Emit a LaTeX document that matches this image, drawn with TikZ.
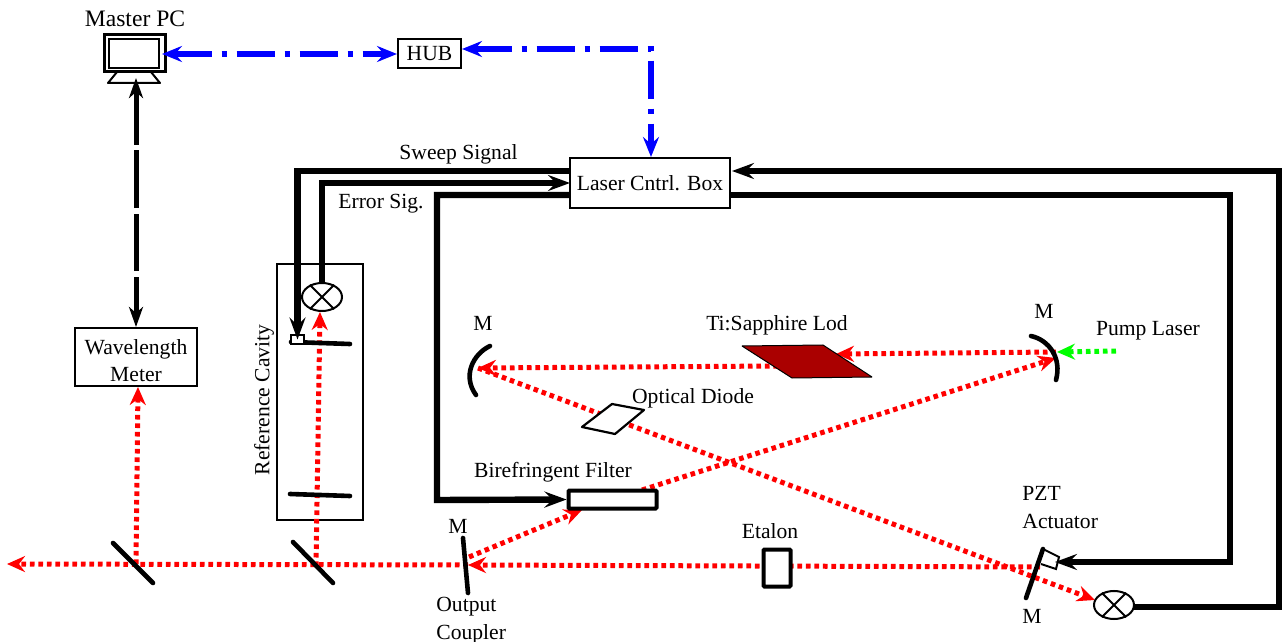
\documentclass[tikz,border=0pt]{standalone}
\usepackage{fontspec}
\setmainfont{Liberation Serif}
\usetikzlibrary{arrows.meta,shapes.geometric}
\definecolor{lodred}{RGB}{170,0,0}
\tikzset{
  lbl/.style={font=\fontsize{10.8}{13}\selectfont, inner sep=0pt, align=center},
  bx/.style={draw, line width=1pt, fill=white, inner sep=0pt, align=center, font=\fontsize{10.8}{13.5}\selectfont},
  optic/.style={line width=2.3pt, line cap=round},
  det/.style={draw, ellipse, line width=1pt, minimum width=20pt, minimum height=14pt, inner sep=0pt},
  beam/.style={red, line width=2.5pt, dash pattern=on 2.3pt off 1.95pt, -{Stealth[length=9pt,width=8pt,inset=3pt]}},
  sig/.style={line width=3.2pt, line join=miter},
  sigtip/.style={-{Stealth[length=11pt,width=8pt,inset=4pt]}},
  net/.style={blue, line width=2.7pt, dash pattern=on 19pt off 5pt on 2.5pt off 5pt, {Stealth[length=10pt,width=8pt,inset=3.5pt]}-{Stealth[length=10pt,width=8pt,inset=3.5pt]}},
  link/.style={line width=2.5pt, dash pattern=on 28.8pt off 2.8pt, dash phase=10pt, {Stealth[length=10pt,width=7pt,inset=3pt]}-{Stealth[length=10pt,width=7pt,inset=3pt]}}
}
\begin{document}
\begin{tikzpicture}[x=0.5pt,y=-0.5pt]
  \useasboundingbox (0,0) rectangle (1282,642);
  % boxes
  \node[bx, line width=1.5pt, minimum width=30.5pt, minimum height=18.5pt] (screen) at (134.5,53) {};
  \node[draw, line width=0.6pt, minimum width=25pt, minimum height=14.5pt, inner sep=0pt] (inner) at (134,53.5) {};
  \draw[line width=1pt, line join=round] (117,72) -- (108,83) -- (160,83) -- (151,72);
  \coordinate (pcbase) at (136,78);
  \node[bx, minimum width=31.5pt, minimum height=14.5pt] (hub) at (429.5,54) {HUB};
  \node[bx, minimum width=80pt, minimum height=25pt] (ctrl) at (650,183) {Laser Cntrl. Box};
  \node[bx, minimum width=61pt, minimum height=29pt] (meter) at (136,357) {\rule{0pt}{11pt}Wavelength\\Meter};
  \draw[line width=1pt] (277,264) rectangle (363,520);
  % network and pc
  \coordinate (pcright) at (162,54);
  \coordinate (hubright) at (462,49);
  \coordinate (ctrltop) at (651,157);
  \draw[net] (pcright) -- (hub.west);
  \draw[net] (hubright) -| (ctrltop);
  \draw[link] (meter.north) -- (pcbase);
  % beams
  \coordinate (omleft) at (478,368);
  \coordinate (omright) at (1056,352);
  \coordinate (pumpstart) at (1116,351);
  \coordinate (omrefl) at (1056,358);
  \coordinate (tiright) at (836,354);
  \coordinate (tileft) at (778,366);
  \coordinate (filtertop) at (642,490);
  \coordinate (filterbot) at (582,510);
  \coordinate (ocfront) at (469,557);
  \coordinate (ocin) at (468,565);
  \coordinate (pztspot) at (1040,567);
  \coordinate (split1) at (136,564);
  \coordinate (split2) at (316,566);
  \coordinate (farleft) at (7,564);
  \coordinate (cavdet) at (320,312);
  \coordinate (meterbot) at (138,387);
  \draw[beam] (pztspot) -- (ocin);
  \draw[beam] (ocin) -- (farleft);
  \draw[beam] (split2) -- (cavdet);
  \draw[beam] (split1) -- (meterbot);
  \draw[beam] (ocfront) -- (filterbot);
  \draw[beam] (filtertop) -- (omrefl);
  \draw[beam] (omright) -- (tiright);
  \draw[beam] (tileft) -- (omleft);
  \draw[beam] (omleft) -- (1095,600);
  \draw[beam, green] (pumpstart) -- (1057,352);
  % optics
  \draw[line width=0.5pt, line join=bevel, fill=lodred] (742,346) -- (823,345) -- (872,377) -- (792,378) -- cycle;
  \draw[line width=1.1pt, line join=round, fill=white] (582,427) -- (612,404) -- (644,410) -- (615,434) -- cycle;
  \draw[optic] (490,346) .. controls (473,354) and (462,376) .. (476,395);
  \draw[optic] (1031,336) .. controls (1049,340) and (1062,358) .. (1056,380);
  \draw[optic] (463,538) -- (468,593);
  \draw[optic] (113,543) -- (153,583);
  \draw[optic] (293,542) -- (333,583);
  \draw[optic] (291,342) -- (350,344);
  \draw[optic] (290,494) -- (350,496);
  \draw[optic] (1043,549) -- (1026,598);
  \draw[line width=1pt] (1043,549) -- (1059,557) -- (1056,569) -- (1041,564);
  \node[bx, line width=2pt, rounded corners=0.5pt, minimum width=44pt, minimum height=9pt] (filter) at (612.5,499.5) {};
  \node[bx, line width=2pt, rounded corners=0.5pt, minimum width=13.5pt, minimum height=18.5pt] (etalon) at (777,568) {};
  \node[draw, fill=white, line width=0.7pt, minimum width=6.5pt, minimum height=4.5pt, inner sep=0pt] (piezo) at (297.5,339.5) {};
  % detectors
  \node[det] (cavity) at (322,297) {};
  \draw[line width=1pt] (cavity.45) -- (cavity.225) (cavity.135) -- (cavity.315);
  \node[det] (output) at (1114,605) {};
  \draw[line width=1pt] (output.45) -- (output.225) (output.135) -- (output.315);
  % signal lines
  \coordinate (sweepout) at (570,171);
  \coordinate (errin) at (570,183);
  \coordinate (filtout) at (570,195);
  \coordinate (filtcorner) at (437,500);
  \coordinate (pztout) at (730,195);
  \coordinate (pztcorner) at (1230,562);
  \coordinate (pztend) at (1055,562);
  \coordinate (outtap) at (1133,607);
  \coordinate (retcorner) at (1279,607);
  \coordinate (retin) at (732,171);
  \draw[sig, sigtip] (sweepout) -| (piezo.center);
  \draw[sig, sigtip] (cavity.north) |- (errin);
  \draw[sig, sigtip] (filtout) -| (filtcorner) -- (filter.west);
  \draw[sig, sigtip] (pztout) -| (pztcorner) -- (pztend);
  \draw[sig, sigtip] (outtap) -- (retcorner) |- (retin);
  % labels
  \node[lbl, font=\fontsize{11.8}{13}\selectfont] (pclabel) at (135,18.5) {Master PC};
  \node[lbl] (sweeplabel) at (458.5,154) {Sweep Signal};
  \node[lbl] (errlabel) at (381,203.5) {Error Sig.};
  \node[lbl] (mleft) at (483,323) {M};
  \node[lbl] (tilabel) at (777,325) {Ti:Sapphire Lod};
  \node[lbl] (mright) at (1044,311) {M};
  \node[lbl] (pumplabel) at (1148,331) {Pump Laser};
  \node[lbl] (diodelabel) at (693,398) {Optical Diode};
  \node[lbl] (bflabel) at (553,472) {Birefringent Filter};
  \node[lbl, rotate=90] (cavlabel) at (264,400) {Reference Cavity};
  \node[lbl] (mout) at (458,526) {M};
  \node[lbl] (etlabel) at (770,531) {Etalon};
  \node[lbl, anchor=west] (pztlabel) at (1022,493) {PZT};
  \node[lbl, anchor=west] (actlabel) at (1022,521) {Actuator};
  \node[lbl] (mpzt) at (1032,616) {M};
  \node[lbl, anchor=west] (outlabel) at (436,607) {Output};
  \node[lbl, anchor=west] (couplabel) at (436,634) {Coupler};
\end{tikzpicture}
\end{document}
